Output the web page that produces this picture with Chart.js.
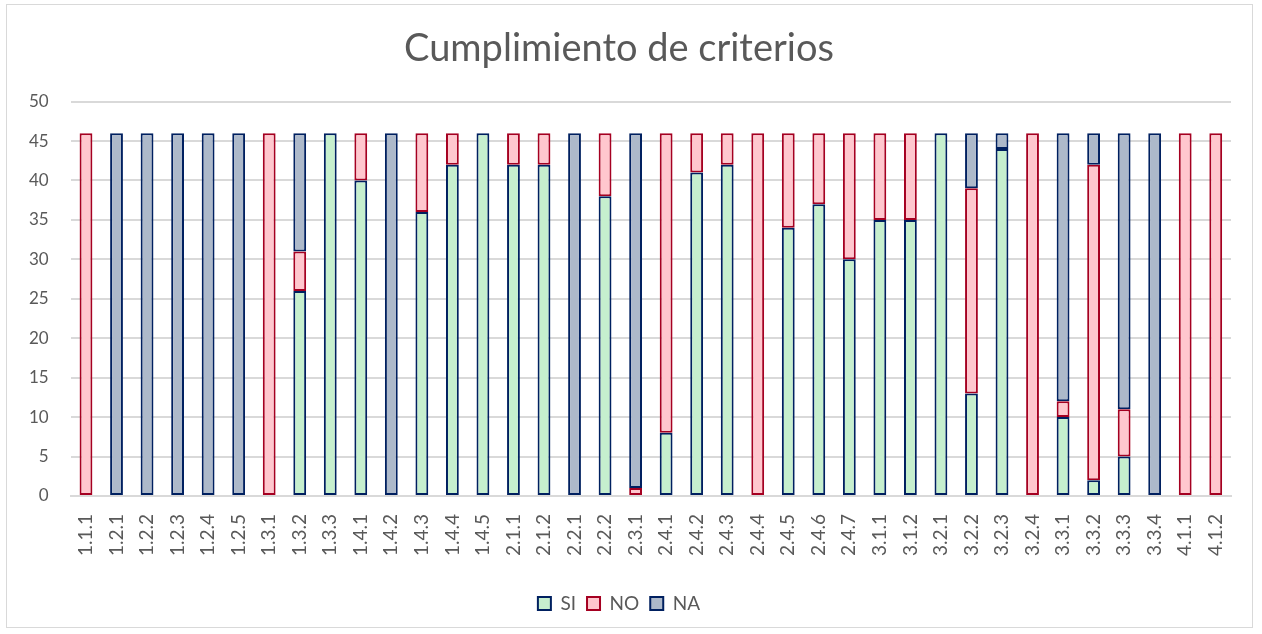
<!DOCTYPE html>
<html>
<head>
<meta charset="utf-8">
<script src="https://cdn.jsdelivr.net/npm/chart.js@4"></script>
<style>
  html, body { margin: 0; padding: 0; background: #fff; }
  #wrap { position: absolute; left: 6px; top: 4px; width: 1247px; height: 624px; border: 1px solid #d9d9d9; box-sizing: border-box; }
  canvas { display: block; }
</style>
</head>
<body>
<div id="wrap"><canvas id="chart"></canvas></div>
<script>
const categories = ['1.1.1','1.2.1','1.2.2','1.2.3','1.2.4','1.2.5','1.3.1','1.3.2','1.3.3','1.4.1',
  '1.4.2','1.4.3','1.4.4','1.4.5','2.1.1','2.1.2','2.2.1','2.2.2','2.3.1','2.4.1',
  '2.4.2','2.4.3','2.4.4','2.4.5','2.4.6','2.4.7','3.1.1','3.1.2','3.2.1','3.2.2',
  '3.2.3','3.2.4','3.3.1','3.3.2','3.3.3','3.3.4','4.1.1','4.1.2'];

const siValues = [0,0,0,0,0,0,0,26,46,40, 0,36,42,46,42,42,0,38,0,8, 41,42,0,34,37,30,35,35,46,13, 44,0,10,2,5,0,0,0];
const noValues = [46,0,0,0,0,0,46,5,0,6, 0,10,4,0,4,4,0,8,1,38, 5,4,46,12,9,16,11,11,0,26, 0,46,2,40,6,0,46,46];
const naValues = [0,46,46,46,46,46,0,15,0,0, 46,0,0,0,0,0,46,0,45,0, 0,0,0,0,0,0,0,0,0,7, 2,0,34,4,35,46,0,0];

const yTicks = [0, 5, 10, 15, 20, 25, 30, 35, 40, 45, 50];

const FONT = 'Lato, "Open Sans", sans-serif';
const TEXT = '#595959';

function ds(label, data, fill, border) {
  return {
    label, data,
    backgroundColor: fill,
    borderColor: border,
    borderWidth: 2,
    borderSkipped: false,
    barPercentage: 0.42,
    categoryPercentage: 1
  };
}

new Chart(document.getElementById('chart'), {
  type: 'bar',
  data: {
    labels: categories,
    datasets: [
      ds('SI', siValues, '#c6efce', '#002060'),
      ds('NO', noValues, '#ffc7ce', '#a50021'),
      ds('NA', naValues, '#adb9ca', '#002060')
    ]
  },
  options: {
    responsive: true,
    maintainAspectRatio: false,
    animation: false,
    layout: { padding: { left: 0, right: 21, top: 8, bottom: 4 } },
    plugins: {
      title: {
        display: true,
        text: 'Cumplimiento de criterios',
        color: TEXT,
        font: { family: FONT, size: 38, weight: 'normal' },
        padding: { top: 13, bottom: 30 }
      },
      legend: {
        position: 'bottom',
        labels: {
          color: TEXT,
          font: { family: FONT, size: 19 },
          boxWidth: 13,
          boxHeight: 13,
          padding: 11
        }
      },
      tooltip: { enabled: false }
    },
    scales: {
      x: {
        stacked: true,
        grid: { display: false, drawTicks: false },
        border: { color: '#d9d9d9', width: 2 },
        afterFit: axis => {
          axis.height += 9;
          axis.paddingLeft = 0;
          axis.paddingRight = 0;
        },
        ticks: {
          color: TEXT,
          font: { family: FONT, size: 19 },
          minRotation: 90,
          maxRotation: 90,
          autoSkip: false,
          padding: 18
        }
      },
      y: {
        stacked: true,
        min: 0,
        max: 50,
        afterBuildTicks: axis => { axis.ticks = yTicks.map(v => ({ value: v })); },
        grid: { color: '#d9d9d9', lineWidth: 2, drawTicks: false },
        border: { display: false },
        ticks: {
          color: TEXT,
          font: { family: FONT, size: 17 },
          padding: 22
        }
      }
    }
  }
});
</script>
</body>
</html>
